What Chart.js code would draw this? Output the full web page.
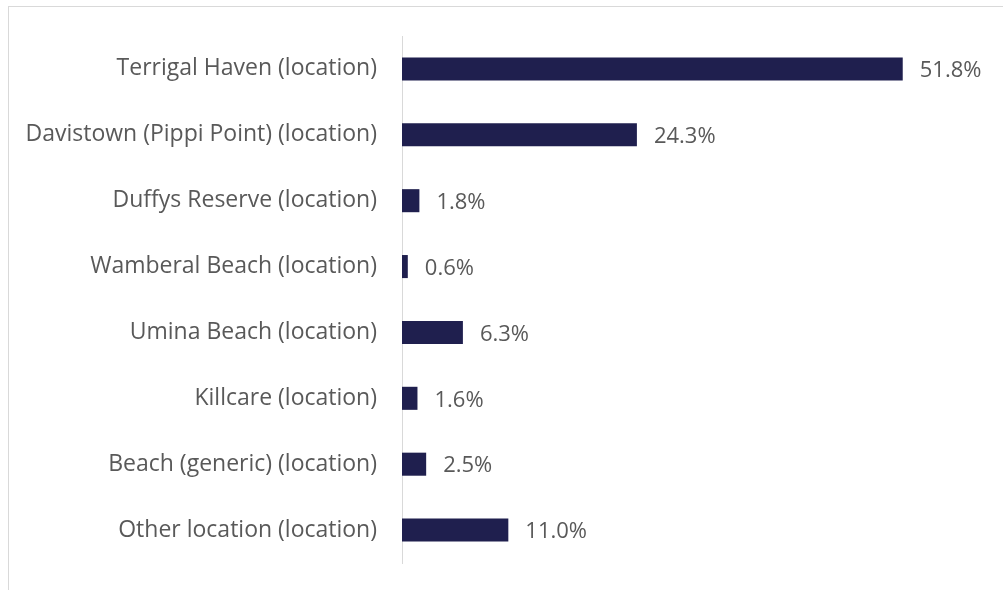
<!DOCTYPE html>
<html>
<head>
<meta charset="utf-8">
<script src="https://cdn.jsdelivr.net/npm/chart.js@4.4.0/dist/chart.umd.min.js"></script>
<style>
  html, body { margin: 0; padding: 0; background: #ffffff; overflow: hidden; }
  #wrap { position: absolute; left: 0; top: 0; width: 1003px; height: 590px; }
  #frame { position: absolute; left: 8px; top: 6px; width: 1200px; height: 800px;
           border-left: 1px solid #d9d9d9; border-top: 1px solid #d9d9d9; box-sizing: border-box; pointer-events: none; }
</style>
</head>
<body>
<div id="wrap">
  <canvas id="c" width="1003" height="590"></canvas>
  <div id="frame"></div>
</div>
<script>
const categories = [
  "Terrigal Haven (location)",
  "Davistown (Pippi Point) (location)",
  "Duffys Reserve (location)",
  "Wamberal Beach (location)",
  "Umina Beach (location)",
  "Killcare (location)",
  "Beach (generic) (location)",
  "Other location (location)"
];
const shares = [51.8, 24.3, 1.8, 0.6, 6.3, 1.6, 2.5, 11.0];
const valueLabels = ["51.8%", "24.3%", "1.8%", "0.6%", "6.3%", "1.6%", "2.5%", "11.0%"];

const FONT = "'Open Sans', 'Noto Sans', sans-serif";

const labelPlugin = {
  id: 'valueLabels',
  afterDatasetsDraw(chart) {
    const ctx = chart.ctx;
    const meta = chart.getDatasetMeta(0);
    ctx.save();
    ctx.font = "22px " + FONT;
    ctx.fillStyle = "#595959";
    ctx.textAlign = "left";
    ctx.textBaseline = "middle";
    meta.data.forEach((bar, i) => {
      ctx.fillText(valueLabels[i], bar.x + 17, bar.y + 2);
    });
    ctx.restore();
  }
};

new Chart(document.getElementById('c'), {
  type: 'bar',
  data: {
    labels: categories,
    datasets: [{
      data: shares,
      backgroundColor: '#1f1f4e',
      borderWidth: 0,
      categoryPercentage: 1.0,
      barPercentage: 0.35
    }]
  },
  options: {
    indexAxis: 'y',
    responsive: false,
    animation: false,
    devicePixelRatio: 1,
    layout: { padding: { top: 36, bottom: 27, left: 0, right: 21 } },
    plugins: { legend: { display: false }, tooltip: { enabled: false } },
    scales: {
      x: { display: false, min: 0, max: 60 },
      y: {
        grid: { display: false, drawTicks: false },
        border: { display: true, color: '#d9d9d9', width: 1 },
        ticks: { color: '#595959', font: { family: FONT, size: 23 }, padding: 25 },
        afterFit(scale) { scale.width = 402; scale.paddingTop = 0; scale.paddingBottom = 0; }
      }
    }
  },
  plugins: [labelPlugin]
});
</script>
</body>
</html>
